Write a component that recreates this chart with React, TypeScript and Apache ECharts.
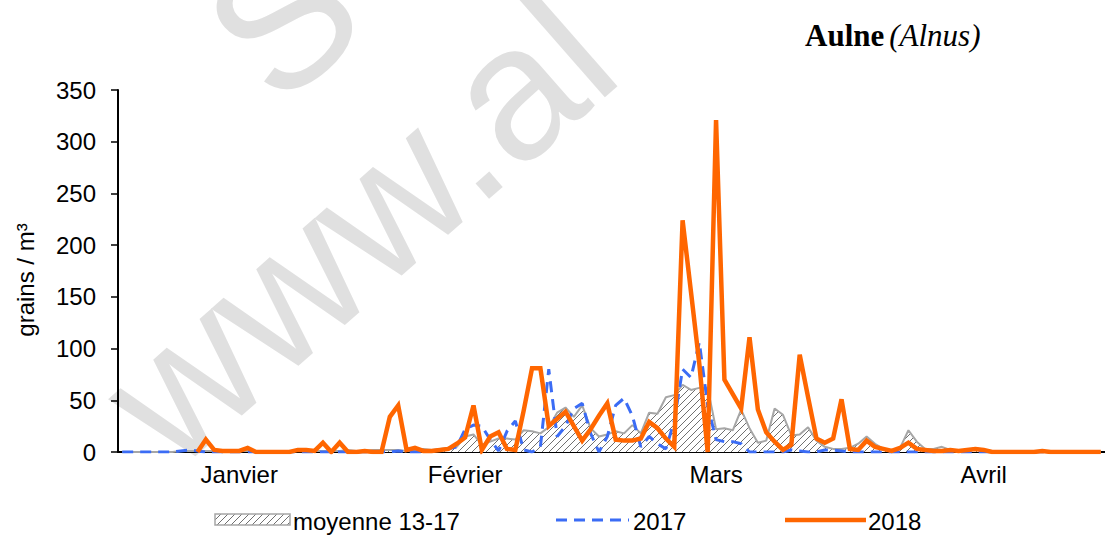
import React, { useEffect, useRef } from 'react';
import * as echarts from 'echarts';

const MONTHS = ['Janvier', 'Février', 'Mars', 'Avril'];
const MONTH_DAYS = [31, 28, 31, 28];
const LABEL_DAY = [15, 11, 13, 14];
const Y_TICKS = [0, 50, 100, 150, 200, 250, 300, 350];

const SERIES_NAMES = ['moyenne 13-17', '2017', '2018'];

// moyenne 13-17 (index 0 = 1 janvier)
const avg: number[] = [
  0, 0, 0, 0, 0, 0, 0, 1, 1, 1,
  1, 1, 1, 1, 1, 1, 1, 1, 1, 1,
  1, 1, 1, 1, 1, 1, 1, 2, 1, 1, 2,
  2, 2, 2, 1, 2, 3, 2, 3, 4, 5,
  15, 17, 7, 10, 13, 13, 12, 21, 20, 18,
  24, 38, 43, 34, 45, 23, 15, 17, 20, 18,
  26, 18, 38, 37, 53, 55, 65, 60, 62, 62,
  22, 23, 21, 41, 23, 9, 11, 42, 36, 16,
  17, 24, 11, 5, 3, 3, 4, 8, 15, 8,
  3, 2, 4, 21, 10, 3, 3, 5, 2, 2,
  2, 4, 2, 1, 1, 0, 1, 1, 0, 0,
  1, 0, 0, 0, 0, 0, 0,
];

const y2017: number[] = [
  0, 0, 0, 0, 0, 0, 0, 1, 2, 1,
  0, 0, 0, 0, 0, 0, 0, 0, 0, 0,
  0, 0, 0, 0, 0, 0, 0, 0, 0, 0, 0,
  0, 0, 1, 0, 0, 0, 1, 2, 3, 5,
  22, 26, 25, 12, 1, 20, 30, 2, 0, 5,
  80, 15, 25, 42, 47, 18, 0, 15, 45, 52,
  35, 5, 15, 8, 3, 30, 80, 72, 106, 45,
  12, 10, 10, 8, 0, 0, 0, 0, 0, 2,
  1, 0, 0, 2, 2, 1, 0, 0, 0, 0,
  0, 0, 0, 0, 0, 0, 0, 0, 0, 0,
  0, 0, 0, 0, 0, 0, 0, 0, 0, 0,
  0, 0, 0, 0, 0, 0, 0,
];

const y2018: (number | null)[] = [
  null, null, null, null, null, null, null, null, null, 0,
  12, 2, 1, 1, 1, 4, 0, 0, 0, 0,
  0, 2, 2, 1, 9, 0, 9, 0, 0, 1, 0,
  0, 34, 45, 2, 4, 1, 1, 2, 3, 8,
  14, 45, 2, 15, 19, 3, 2, 40, 81, 81,
  25, 32, 39, 25, 11, 22, 35, 47, 12, 11,
  11, 13, 29, 23, 13, 5, 224, 155, 85, 0,
  321, 70, 56, 42, 111, 41, 19, 10, 2, 7,
  94, 53, 13, 9, 13, 51, 3, 2, 11, 5,
  3, 1, 4, 9, 3, 2, 1, 1, 2, 1,
  2, 3, 2, 0, 0, 0, 0, 0, 0, 1,
  0, 0, 0, 0, 0, 0, 0,
];

const categories: string[] = [];
const monthStart: number[] = [];
const labelIdx: number[] = [];
MONTH_DAYS.forEach((n, m) => {
  monthStart.push(categories.length);
  labelIdx.push(categories.length + LABEL_DAY[m] - 1);
  for (let d = 1; d <= n; d++) categories.push(d + ' ' + MONTHS[m]);
});

function makeHatch() {
  const s = 7;
  const c = document.createElement('canvas');
  c.width = s;
  c.height = s;
  const ctx = c.getContext('2d')!;
  ctx.fillStyle = '#ffffff';
  ctx.fillRect(0, 0, s, s);
  ctx.strokeStyle = '#707070';
  ctx.lineWidth = 1;
  ctx.beginPath();
  ctx.moveTo(0, s);
  ctx.lineTo(s, 0);
  ctx.moveTo(-1, 1);
  ctx.lineTo(1, -1);
  ctx.moveTo(s - 1, s + 1);
  ctx.lineTo(s + 1, s - 1);
  ctx.stroke();
  return { image: c.toDataURL(), repeat: 'repeat', imageWidth: s, imageHeight: s };
}

export default function App() {
  const ref = useRef<HTMLDivElement>(null);
  useEffect(() => {
    if (!ref.current) return;
    const chart = echarts.init(ref.current, undefined, { renderer: 'svg' });
    const hatch: any = makeHatch();
    const font = 'Liberation Sans, Arial, sans-serif';
    const serif = 'Liberation Serif, Times New Roman, serif';
    const wm = '#e0e0e0';
    const option: any = {
      animation: false,
      backgroundColor: '#ffffff',
      textStyle: { fontFamily: font },
      title: {
        text: '{b|Aulne} {i|(Alnus)}',
        left: 800,
        top: 15,
        textStyle: {
          fontWeight: 'normal',
          rich: {
            b: { fontFamily: serif, fontWeight: 'bold', fontSize: 31, color: '#000' },
            i: { fontFamily: serif, fontStyle: 'italic', fontWeight: 'normal', fontSize: 31, color: '#000' },
          },
        },
      },
      grid: { left: 118, right: 0, top: 90, bottom: 87, containLabel: false },
      xAxis: {
        type: 'category',
        data: categories,
        boundaryGap: true,
        axisLine: { lineStyle: { color: '#000', width: 2 } },
        axisTick: {
          interval: (i: number) => monthStart.includes(i),
          length: 8,
          lineStyle: { color: '#000', width: 1.5 },
        },
        axisLabel: {
          interval: (i: number) => labelIdx.includes(i),
          formatter: (v: string) => v.split(' ')[1],
          fontSize: 24,
          color: '#000',
          margin: 10,
          fontFamily: font,
        },
        splitLine: { show: false },
      },
      yAxis: {
        type: 'value',
        min: Y_TICKS[0],
        max: Y_TICKS[Y_TICKS.length - 1],
        interval: 50,
        name: 'grains / m³',
        nameLocation: 'middle',
        nameGap: 81,
        nameTextStyle: { fontSize: 24, color: '#000', fontFamily: font, padding: [0, 18, 0, 0] },
        axisLine: { show: true, lineStyle: { color: '#000', width: 2 } },
        axisTick: { show: true, length: 7, lineStyle: { color: '#000', width: 1.5 } },
        axisLabel: { fontSize: 24, color: '#000', margin: 22, fontFamily: font },
        splitLine: { show: false },
      },
      series: [
        {
          name: SERIES_NAMES[0],
          type: 'line',
          data: avg,
          symbol: 'none',
          z: 1,
          lineStyle: { color: '#a6a6a6', width: 2 },
          areaStyle: { color: hatch, opacity: 1 },
        },
        {
          name: SERIES_NAMES[1],
          type: 'line',
          data: y2017,
          symbol: 'none',
          z: 2,
          lineStyle: { color: '#3b6cf5', width: 3, type: [11, 7] },
        },
        {
          name: SERIES_NAMES[2],
          type: 'line',
          data: y2018,
          symbol: 'none',
          z: 3,
          connectNulls: false,
          lineStyle: { color: '#ff6600', width: 4.5, join: 'miter' },
        },
      ],
      graphic: [
        {
          type: 'group',
          x: 182,
          y: 380,
          rotation: 0.72,
          z: -10,
          silent: true,
          children: [
            {
              type: 'text',
              x: -68,
              y: 0,
              style: {
                text: 'www.al',
                fontSize: 190,
                fontFamily: font,
                fill: wm,
                textAlign: 'left',
                textVerticalAlign: 'middle',
              },
            },
            {
              type: 'text',
              x: 250,
              y: -205,
              style: {
                text: 'SC',
                fontSize: 190,
                fontFamily: font,
                fill: wm,
                textAlign: 'left',
                textVerticalAlign: 'middle',
              },
            },
          ],
        },
        {
          type: 'rect',
          shape: { x: 215, y: 514, width: 75, height: 11 },
          style: { fill: hatch, stroke: '#a6a6a6', lineWidth: 1.5 },
        },
        {
          type: 'text',
          x: 293,
          y: 521,
          style: { text: SERIES_NAMES[0], fontSize: 24, fontFamily: font, fill: '#000', textVerticalAlign: 'middle' },
        },
        {
          type: 'line',
          shape: { x1: 556, y1: 520, x2: 629, y2: 520 },
          style: { stroke: '#3b6cf5', lineWidth: 3, lineDash: [11, 7] },
        },
        {
          type: 'text',
          x: 633,
          y: 521,
          style: { text: SERIES_NAMES[1], fontSize: 24, fontFamily: font, fill: '#000', textVerticalAlign: 'middle' },
        },
        {
          type: 'line',
          shape: { x1: 785, y1: 520, x2: 866, y2: 520 },
          style: { stroke: '#ff6600', lineWidth: 4.5 },
        },
        {
          type: 'text',
          x: 868,
          y: 521,
          style: { text: SERIES_NAMES[2], fontSize: 24, fontFamily: font, fill: '#000', textVerticalAlign: 'middle' },
        },
      ],
    };
    chart.setOption(option);
    return () => chart.dispose();
  }, []);
  return (
    <div
      ref={ref}
      style={{ position: 'absolute', left: 0, top: 0, width: 1105, height: 539, background: '#fff' }}
    />
  );
}
